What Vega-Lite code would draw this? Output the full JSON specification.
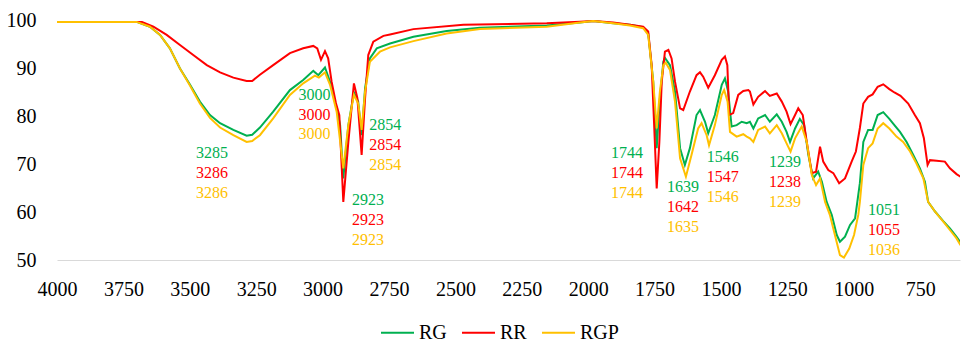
{
  "$schema": "https://vega.github.io/schema/vega-lite/v6.json",
  "width": 903,
  "height": 240,
  "autosize": {"type": "none"},
  "padding": {"left": 57, "top": 20, "right": 12, "bottom": 86},
  "background": "white",
  "config": {"view": {"stroke": null}, "font": "Liberation Serif, DejaVu Serif, serif"},
  "datasets": {
    "spectra": [
      {"s":"RG","w":4000,"t":99.6},{"s":"RG","w":3900,"t":99.6},{"s":"RG","w":3800,"t":99.6},{"s":"RG","w":3700,"t":99.6},{"s":"RG","w":3650,"t":98.6},{"s":"RG","w":3612,"t":96.9},{"s":"RG","w":3575,"t":94.1},{"s":"RG","w":3537,"t":89.9},{"s":"RG","w":3499,"t":86.5},{"s":"RG","w":3462,"t":83.0},{"s":"RG","w":3424,"t":80.2},{"s":"RG","w":3386,"t":78.5},{"s":"RG","w":3336,"t":77.1},{"s":"RG","w":3286,"t":75.9},{"s":"RG","w":3265,"t":76.1},{"s":"RG","w":3236,"t":77.6},{"s":"RG","w":3186,"t":80.9},{"s":"RG","w":3123,"t":85.4},{"s":"RG","w":3073,"t":87.5},{"s":"RG","w":3035,"t":89.4},{"s":"RG","w":3016,"t":88.5},{"s":"RG","w":2991,"t":90.1},{"s":"RG","w":2972,"t":87.15},{"s":"RG","w":2947,"t":81.6},{"s":"RG","w":2934,"t":78.1},{"s":"RG","w":2922,"t":67.0},{"s":"RG","w":2903,"t":78.1},{"s":"RG","w":2882,"t":84.9},{"s":"RG","w":2866,"t":83.0},{"s":"RG","w":2853,"t":76.0},{"s":"RG","w":2840,"t":85.8},{"s":"RG","w":2822,"t":92.0},{"s":"RG","w":2796,"t":94.1},{"s":"RG","w":2746,"t":95.1},{"s":"RG","w":2658,"t":96.5},{"s":"RG","w":2533,"t":97.7},{"s":"RG","w":2407,"t":98.4},{"s":"RG","w":2156,"t":98.85},{"s":"RG","w":2031,"t":99.5},{"s":"RG","w":1981,"t":99.8},{"s":"RG","w":1906,"t":99.3},{"s":"RG","w":1843,"t":99.0},{"s":"RG","w":1793,"t":98.5},{"s":"RG","w":1774,"t":97.2},{"s":"RG","w":1755,"t":87.15},{"s":"RG","w":1742,"t":73.3},{"s":"RG","w":1730,"t":83.7},{"s":"RG","w":1717,"t":91.3},{"s":"RG","w":1711,"t":92.1},{"s":"RG","w":1692,"t":90.6},{"s":"RG","w":1673,"t":85.1},{"s":"RG","w":1654,"t":73.3},{"s":"RG","w":1636,"t":69.8},{"s":"RG","w":1617,"t":73.3},{"s":"RG","w":1592,"t":80.2},{"s":"RG","w":1579,"t":81.25},{"s":"RG","w":1560,"t":78.8},{"s":"RG","w":1548,"t":76.4},{"s":"RG","w":1523,"t":80.2},{"s":"RG","w":1497,"t":86.5},{"s":"RG","w":1485,"t":87.85},{"s":"RG","w":1473,"t":85.1},{"s":"RG","w":1460,"t":77.8},{"s":"RG","w":1441,"t":78.1},{"s":"RG","w":1422,"t":78.8},{"s":"RG","w":1403,"t":78.5},{"s":"RG","w":1391,"t":78.8},{"s":"RG","w":1378,"t":77.4},{"s":"RG","w":1360,"t":79.5},{"s":"RG","w":1334,"t":80.2},{"s":"RG","w":1316,"t":78.8},{"s":"RG","w":1290,"t":80.35},{"s":"RG","w":1271,"t":78.8},{"s":"RG","w":1253,"t":76.7},{"s":"RG","w":1240,"t":74.6},{"s":"RG","w":1221,"t":77.4},{"s":"RG","w":1203,"t":79.4},{"s":"RG","w":1187,"t":78.1},{"s":"RG","w":1171,"t":71.9},{"s":"RG","w":1153,"t":67.0},{"s":"RG","w":1134,"t":68.4},{"s":"RG","w":1120,"t":66.3},{"s":"RG","w":1102,"t":62.1},{"s":"RG","w":1083,"t":59.4},{"s":"RG","w":1064,"t":55.2},{"s":"RG","w":1052,"t":53.8},{"s":"RG","w":1033,"t":54.85},{"s":"RG","w":1014,"t":57.3},{"s":"RG","w":995,"t":58.7},{"s":"RG","w":977,"t":66.0},{"s":"RG","w":964,"t":74.6},{"s":"RG","w":946,"t":77.1},{"s":"RG","w":929,"t":77.1},{"s":"RG","w":910,"t":80.2},{"s":"RG","w":889,"t":80.8},{"s":"RG","w":866,"t":79.4},{"s":"RG","w":847,"t":78.1},{"s":"RG","w":826,"t":76.7},{"s":"RG","w":801,"t":74.6},{"s":"RG","w":776,"t":71.9},{"s":"RG","w":751,"t":69.1},{"s":"RG","w":732,"t":66.3},{"s":"RG","w":720,"t":62.1},{"s":"RG","w":694,"t":60.1},{"s":"RG","w":663,"t":58.1},{"s":"RG","w":638,"t":56.6},{"s":"RG","w":613,"t":54.85},{"s":"RG","w":598,"t":53.6},
      {"s":"RR","w":4000,"t":99.6},{"s":"RR","w":3900,"t":99.6},{"s":"RR","w":3800,"t":99.6},{"s":"RR","w":3680,"t":99.6},{"s":"RR","w":3637,"t":98.6},{"s":"RR","w":3587,"t":96.9},{"s":"RR","w":3537,"t":94.8},{"s":"RR","w":3487,"t":92.7},{"s":"RR","w":3436,"t":90.6},{"s":"RR","w":3386,"t":89.1},{"s":"RR","w":3336,"t":88.0},{"s":"RR","w":3286,"t":87.3},{"s":"RR","w":3265,"t":87.3},{"s":"RR","w":3236,"t":88.6},{"s":"RR","w":3186,"t":90.6},{"s":"RR","w":3123,"t":93.1},{"s":"RR","w":3073,"t":94.1},{"s":"RR","w":3035,"t":94.6},{"s":"RR","w":3020,"t":94.1},{"s":"RR","w":3006,"t":91.7},{"s":"RR","w":2991,"t":93.5},{"s":"RR","w":2979,"t":92.0},{"s":"RR","w":2966,"t":87.15},{"s":"RR","w":2950,"t":82.7},{"s":"RR","w":2937,"t":80.2},{"s":"RR","w":2922,"t":62.1},{"s":"RR","w":2903,"t":74.6},{"s":"RR","w":2882,"t":86.8},{"s":"RR","w":2869,"t":83.7},{"s":"RR","w":2853,"t":71.9},{"s":"RR","w":2840,"t":83.7},{"s":"RR","w":2828,"t":92.7},{"s":"RR","w":2809,"t":95.5},{"s":"RR","w":2771,"t":96.7},{"s":"RR","w":2746,"t":97.0},{"s":"RR","w":2658,"t":98.1},{"s":"RR","w":2470,"t":99.0},{"s":"RR","w":2156,"t":99.3},{"s":"RR","w":2031,"t":99.65},{"s":"RR","w":1981,"t":99.8},{"s":"RR","w":1906,"t":99.5},{"s":"RR","w":1843,"t":99.0},{"s":"RR","w":1793,"t":98.6},{"s":"RR","w":1774,"t":97.6},{"s":"RR","w":1761,"t":90.6},{"s":"RR","w":1749,"t":74.6},{"s":"RR","w":1742,"t":64.9},{"s":"RR","w":1732,"t":74.6},{"s":"RR","w":1723,"t":87.15},{"s":"RR","w":1711,"t":93.4},{"s":"RR","w":1698,"t":93.75},{"s":"RR","w":1686,"t":92.0},{"s":"RR","w":1673,"t":87.15},{"s":"RR","w":1654,"t":81.6},{"s":"RR","w":1642,"t":81.25},{"s":"RR","w":1617,"t":85.1},{"s":"RR","w":1592,"t":88.5},{"s":"RR","w":1579,"t":89.1},{"s":"RR","w":1567,"t":88.2},{"s":"RR","w":1548,"t":85.9},{"s":"RR","w":1523,"t":88.5},{"s":"RR","w":1497,"t":91.7},{"s":"RR","w":1485,"t":92.4},{"s":"RR","w":1476,"t":90.6},{"s":"RR","w":1469,"t":80.2},{"s":"RR","w":1454,"t":80.6},{"s":"RR","w":1435,"t":84.4},{"s":"RR","w":1416,"t":85.2},{"s":"RR","w":1397,"t":85.4},{"s":"RR","w":1391,"t":85.1},{"s":"RR","w":1378,"t":82.4},{"s":"RR","w":1360,"t":84.0},{"s":"RR","w":1334,"t":85.2},{"s":"RR","w":1316,"t":84.2},{"s":"RR","w":1290,"t":84.7},{"s":"RR","w":1271,"t":83.0},{"s":"RR","w":1253,"t":80.9},{"s":"RR","w":1238,"t":78.3},{"s":"RR","w":1221,"t":80.2},{"s":"RR","w":1209,"t":81.6},{"s":"RR","w":1192,"t":80.2},{"s":"RR","w":1177,"t":74.6},{"s":"RR","w":1158,"t":68.1},{"s":"RR","w":1142,"t":68.4},{"s":"RR","w":1127,"t":73.6},{"s":"RR","w":1115,"t":70.5},{"s":"RR","w":1096,"t":68.75},{"s":"RR","w":1077,"t":68.1},{"s":"RR","w":1055,"t":66.0},{"s":"RR","w":1033,"t":67.0},{"s":"RR","w":1008,"t":70.5},{"s":"RR","w":992,"t":72.6},{"s":"RR","w":977,"t":77.5},{"s":"RR","w":964,"t":82.6},{"s":"RR","w":946,"t":84.0},{"s":"RR","w":929,"t":84.5},{"s":"RR","w":910,"t":86.1},{"s":"RR","w":889,"t":86.6},{"s":"RR","w":866,"t":85.6},{"s":"RR","w":847,"t":84.9},{"s":"RR","w":824,"t":84.2},{"s":"RR","w":795,"t":82.6},{"s":"RR","w":770,"t":80.2},{"s":"RR","w":751,"t":78.5},{"s":"RR","w":736,"t":75.35},{"s":"RR","w":722,"t":69.8},{"s":"RR","w":713,"t":70.8},{"s":"RR","w":688,"t":70.7},{"s":"RR","w":657,"t":70.5},{"s":"RR","w":638,"t":69.1},{"s":"RR","w":613,"t":67.9},{"s":"RR","w":598,"t":67.35},
      {"s":"RGP","w":4000,"t":99.6},{"s":"RGP","w":3900,"t":99.6},{"s":"RGP","w":3800,"t":99.6},{"s":"RGP","w":3700,"t":99.6},{"s":"RGP","w":3650,"t":98.6},{"s":"RGP","w":3612,"t":96.9},{"s":"RGP","w":3575,"t":94.1},{"s":"RGP","w":3537,"t":89.9},{"s":"RGP","w":3499,"t":86.3},{"s":"RGP","w":3462,"t":82.6},{"s":"RGP","w":3424,"t":79.6},{"s":"RGP","w":3386,"t":77.6},{"s":"RGP","w":3336,"t":76.0},{"s":"RGP","w":3286,"t":74.6},{"s":"RGP","w":3265,"t":74.8},{"s":"RGP","w":3236,"t":76.0},{"s":"RGP","w":3186,"t":79.5},{"s":"RGP","w":3123,"t":84.4},{"s":"RGP","w":3073,"t":86.8},{"s":"RGP","w":3029,"t":88.4},{"s":"RGP","w":3014,"t":88.0},{"s":"RGP","w":2991,"t":89.1},{"s":"RGP","w":2972,"t":86.5},{"s":"RGP","w":2947,"t":80.9},{"s":"RGP","w":2922,"t":69.1},{"s":"RGP","w":2903,"t":78.1},{"s":"RGP","w":2882,"t":84.4},{"s":"RGP","w":2866,"t":82.6},{"s":"RGP","w":2853,"t":77.1},{"s":"RGP","w":2840,"t":85.1},{"s":"RGP","w":2822,"t":91.3},{"s":"RGP","w":2784,"t":93.4},{"s":"RGP","w":2746,"t":94.3},{"s":"RGP","w":2658,"t":95.6},{"s":"RGP","w":2533,"t":97.2},{"s":"RGP","w":2407,"t":98.1},{"s":"RGP","w":2156,"t":98.6},{"s":"RGP","w":2031,"t":99.5},{"s":"RGP","w":1981,"t":99.8},{"s":"RGP","w":1906,"t":99.3},{"s":"RGP","w":1843,"t":98.85},{"s":"RGP","w":1793,"t":98.3},{"s":"RGP","w":1774,"t":96.9},{"s":"RGP","w":1755,"t":87.15},{"s":"RGP","w":1742,"t":77.4},{"s":"RGP","w":1730,"t":85.1},{"s":"RGP","w":1717,"t":90.6},{"s":"RGP","w":1708,"t":91.1},{"s":"RGP","w":1692,"t":89.6},{"s":"RGP","w":1673,"t":83.0},{"s":"RGP","w":1654,"t":71.2},{"s":"RGP","w":1632,"t":67.35},{"s":"RGP","w":1611,"t":71.9},{"s":"RGP","w":1586,"t":77.4},{"s":"RGP","w":1573,"t":78.5},{"s":"RGP","w":1554,"t":76.0},{"s":"RGP","w":1545,"t":73.9},{"s":"RGP","w":1523,"t":78.1},{"s":"RGP","w":1497,"t":84.4},{"s":"RGP","w":1488,"t":85.4},{"s":"RGP","w":1475,"t":83.0},{"s":"RGP","w":1466,"t":76.7},{"s":"RGP","w":1441,"t":75.7},{"s":"RGP","w":1416,"t":76.2},{"s":"RGP","w":1403,"t":75.7},{"s":"RGP","w":1391,"t":75.35},{"s":"RGP","w":1378,"t":74.6},{"s":"RGP","w":1360,"t":77.1},{"s":"RGP","w":1334,"t":77.8},{"s":"RGP","w":1316,"t":76.4},{"s":"RGP","w":1290,"t":78.1},{"s":"RGP","w":1271,"t":76.4},{"s":"RGP","w":1253,"t":74.3},{"s":"RGP","w":1238,"t":72.6},{"s":"RGP","w":1221,"t":75.35},{"s":"RGP","w":1196,"t":77.8},{"s":"RGP","w":1177,"t":74.6},{"s":"RGP","w":1158,"t":67.7},{"s":"RGP","w":1142,"t":65.6},{"s":"RGP","w":1127,"t":67.0},{"s":"RGP","w":1108,"t":62.1},{"s":"RGP","w":1090,"t":59.4},{"s":"RGP","w":1071,"t":55.2},{"s":"RGP","w":1052,"t":51.0},{"s":"RGP","w":1037,"t":50.5},{"s":"RGP","w":1017,"t":52.4},{"s":"RGP","w":999,"t":55.2},{"s":"RGP","w":983,"t":59.4},{"s":"RGP","w":977,"t":62.1},{"s":"RGP","w":964,"t":69.8},{"s":"RGP","w":946,"t":73.3},{"s":"RGP","w":929,"t":74.3},{"s":"RGP","w":910,"t":77.4},{"s":"RGP","w":889,"t":78.5},{"s":"RGP","w":866,"t":77.4},{"s":"RGP","w":839,"t":75.7},{"s":"RGP","w":814,"t":74.6},{"s":"RGP","w":788,"t":72.6},{"s":"RGP","w":764,"t":70.1},{"s":"RGP","w":738,"t":67.0},{"s":"RGP","w":720,"t":62.1},{"s":"RGP","w":694,"t":60.1},{"s":"RGP","w":663,"t":58.0},{"s":"RGP","w":638,"t":56.25},{"s":"RGP","w":613,"t":54.5},{"s":"RGP","w":598,"t":53.1}
    ],
    "labels": [
      {"s":"RG","w":3416,"t":72.2,"label":"3285"},{"s":"RR","w":3416,"t":68.05,"label":"3286"},{"s":"RGP","w":3416,"t":63.9,"label":"3286"},
      {"s":"RG","w":3030,"t":84.4,"label":"3000"},{"s":"RR","w":3030,"t":80.2,"label":"3000"},{"s":"RGP","w":3030,"t":76.2,"label":"3000"},
      {"s":"RG","w":2764,"t":78.1,"label":"2854"},{"s":"RR","w":2764,"t":73.96,"label":"2854"},{"s":"RGP","w":2764,"t":69.8,"label":"2854"},
      {"s":"RG","w":2829,"t":62.5,"label":"2923"},{"s":"RR","w":2829,"t":58.33,"label":"2923"},{"s":"RGP","w":2829,"t":54.17,"label":"2923"},
      {"s":"RG","w":1854,"t":72.2,"label":"1744"},{"s":"RR","w":1854,"t":68.05,"label":"1744"},{"s":"RGP","w":1854,"t":63.9,"label":"1744"},
      {"s":"RG","w":1643,"t":65.15,"label":"1639"},{"s":"RR","w":1643,"t":61.0,"label":"1642"},{"s":"RGP","w":1643,"t":56.8,"label":"1635"},
      {"s":"RG","w":1493,"t":71.5,"label":"1546"},{"s":"RR","w":1493,"t":67.35,"label":"1547"},{"s":"RGP","w":1493,"t":63.2,"label":"1546"},
      {"s":"RG","w":1259,"t":70.5,"label":"1239"},{"s":"RR","w":1259,"t":66.3,"label":"1238"},{"s":"RGP","w":1259,"t":62.1,"label":"1239"},
      {"s":"RG","w":886,"t":60.4,"label":"1051"},{"s":"RR","w":886,"t":56.25,"label":"1055"},{"s":"RGP","w":886,"t":52.1,"label":"1036"}
    ]
  },
  "encoding": {
    "x": {
      "field": "w", "type": "quantitative",
      "scale": {"domain": [600, 4000], "reverse": true, "nice": false, "zero": false},
      "axis": {
        "title": null, "values": [4000, 3750, 3500, 3250, 3000, 2750, 2500, 2250, 2000, 1750, 1500, 1250, 1000, 750], "format": "d",
        "grid": false, "ticks": false, "domainColor": "#D9D9D9", "domainWidth": 1,
        "labelFont": "Liberation Serif, DejaVu Serif, serif", "labelFontSize": 20, "labelColor": "#000000", "labelPadding": 19, "labelFlush": false
      }
    },
    "y": {
      "field": "t", "type": "quantitative",
      "scale": {"domain": [50, 100], "nice": false, "zero": false},
      "axis": {
        "title": null, "values": [50, 60, 70, 80, 90, 100], "format": "d", "grid": false, "ticks": false, "domain": false,
        "labelFont": "Liberation Serif, DejaVu Serif, serif", "labelFontSize": 20, "labelColor": "#000000", "labelPadding": 21
      }
    },
    "color": {
      "field": "s", "type": "nominal",
      "scale": {"domain": ["RG", "RR", "RGP"], "range": ["#00B050", "#FF0000", "#FFC000"]}
    }
  },
  "layer": [
    {
      "data": {"name": "spectra"},
      "mark": {"type": "line", "strokeWidth": 2, "clip": true},
      "encoding": {
        "color": {
          "field": "s", "type": "nominal", "sort": ["RG", "RR", "RGP"],
          "scale": {"domain": ["RG", "RR", "RGP"], "range": ["#00B050", "#FF0000", "#FFC000"]},
          "legend": {
            "title": null, "orient": "none", "direction": "horizontal", "legendX": 323, "legendY": 295,
            "symbolType": "stroke", "symbolSize": 1089, "symbolStrokeWidth": 2, "labelOffset": 4,
            "labelFont": "Liberation Serif, DejaVu Serif, serif", "labelFontSize": 20, "labelColor": "#000000",
            "columnPadding": 11, "padding": 0
          }
        }
      }
    },
    {
      "data": {"name": "labels"},
      "mark": {"type": "text", "font": "Liberation Serif, DejaVu Serif, serif", "fontSize": 16, "align": "center", "baseline": "middle"},
      "encoding": {
        "text": {"field": "label"},
        "color": {"field": "s", "type": "nominal", "legend": null}
      }
    }
  ]
}
